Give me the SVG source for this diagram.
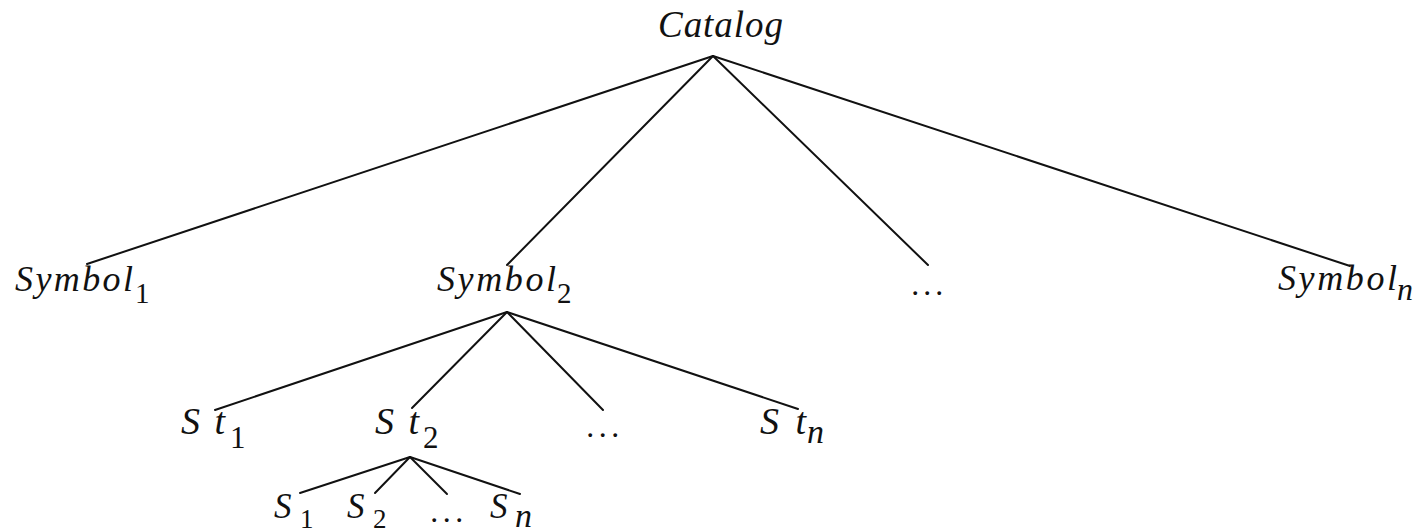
<svg xmlns="http://www.w3.org/2000/svg" width="1424" height="532" viewBox="0 0 1424 532">
<style>
.m{font-family:"Liberation Serif",serif;font-style:italic;fill:#111;}
.d{font-family:"Liberation Serif",serif;fill:#111;}
.e line{stroke:#111;stroke-width:2;stroke-linecap:round;}
</style>
<rect width="1424" height="532" fill="#fff"/>
<g id="connectors" class="e">
<line x1="713" y1="56" x2="87" y2="264"/>
<line x1="713" y1="56" x2="507" y2="265"/>
<line x1="713" y1="56" x2="928" y2="265"/>
<line x1="713" y1="56" x2="1350" y2="266"/>
<line x1="507" y1="312" x2="215" y2="410"/>
<line x1="507" y1="312" x2="412" y2="408"/>
<line x1="507" y1="312" x2="603" y2="410"/>
<line x1="507" y1="312" x2="798" y2="409"/>
<line x1="410" y1="457" x2="300" y2="493"/>
<line x1="410" y1="457" x2="375" y2="493"/>
<line x1="410" y1="457" x2="447" y2="494"/>
<line x1="410" y1="457" x2="520" y2="494"/>
</g>
<g id="catalog"><text class="m" x="658" y="37" font-size="37" textLength="125" lengthAdjust="spacing">Catalog</text></g>
<g id="symbol1"><text class="m" x="15" y="291" font-size="36" textLength="118" lengthAdjust="spacing">Symbol</text><text class="d" x="135" y="303" font-size="29">1</text></g>
<g id="symbol2"><text class="m" x="437" y="291" font-size="36" textLength="119" lengthAdjust="spacing">Symbol</text><text class="d" x="557" y="303" font-size="29">2</text></g>
<g id="symbol-dots"><text class="m" x="912" y="295" font-size="32" textLength="32" lengthAdjust="spacing">...</text></g>
<g id="symboln"><text class="m" x="1278" y="290" font-size="36" textLength="119" lengthAdjust="spacing">Symbol</text><text class="m" x="1397" y="300" font-size="32">n</text></g>
<g id="st1"><text class="m" x="181" y="434" font-size="38" textLength="44" lengthAdjust="spacing">St</text><text class="d" x="230" y="448" font-size="31">1</text></g>
<g id="st2"><text class="m" x="375" y="434" font-size="38" textLength="44" lengthAdjust="spacing">St</text><text class="d" x="423" y="448" font-size="31">2</text></g>
<g id="st-dots"><text class="m" x="587" y="437" font-size="32" textLength="33" lengthAdjust="spacing">...</text></g>
<g id="stn"><text class="m" x="760" y="434" font-size="38" textLength="46" lengthAdjust="spacing">St</text><text class="m" x="807" y="443" font-size="34">n</text></g>
<g id="s1"><text class="m" x="274" y="518" font-size="35">S</text><text class="d" x="300" y="528" font-size="27">1</text></g>
<g id="s2"><text class="m" x="347" y="518" font-size="35">S</text><text class="d" x="373" y="528" font-size="27">2</text></g>
<g id="s-dots"><text class="m" x="431" y="522" font-size="32" textLength="33" lengthAdjust="spacing">...</text></g>
<g id="sn"><text class="m" x="490" y="518" font-size="35">S</text><text class="m" x="515" y="527" font-size="34">n</text></g>
</svg>
